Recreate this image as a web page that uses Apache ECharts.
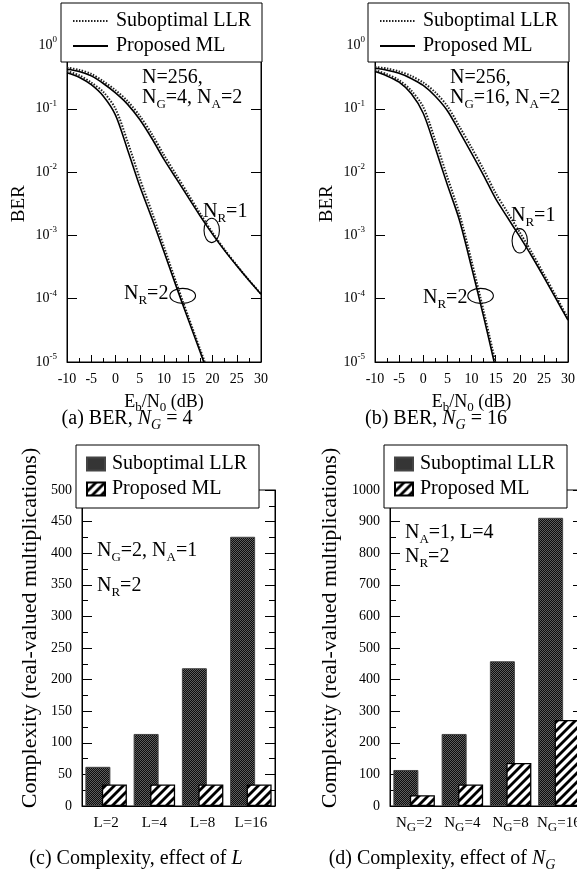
<!DOCTYPE html>
<html><head><meta charset="utf-8">
<script src="https://cdn.jsdelivr.net/npm/echarts/dist/echarts.min.js"></script>
<style>html,body{margin:0;padding:0;background:#fff}#c{width:577px;height:876px}</style>
</head><body><div id="c"></div>
<script>
// ---------- data ----------
// (a) N_G = 4 : [Eb/N0 (dB), BER]
const berA_NR1_sub = [[-10,0.447],[-7.5,0.412],[-5,0.355],[-2.5,0.272],[0,0.197],[2.5,0.132],[5,0.0776],[7.5,0.0398],[10,0.0186],[12.5,0.00912],[15,0.00447],[17.5,0.00219],[20,0.00111],[22.5,0.000596],[25,0.000339],[27.5,0.000197],[30,0.000119]];
const berA_NR1_ml  = [[-10,0.421],[-7.5,0.389],[-5,0.331],[-2.5,0.251],[0,0.178],[2.5,0.1175],[5,0.0676],[7.5,0.0339],[10,0.01585],[12.5,0.00794],[15,0.00398],[17.5,0.002],[20,0.001047],[22.5,0.000575],[25,0.000331],[27.5,0.000195],[30,0.0001175]];
const berA_NR2_sub = [[-10,0.394],[-7.5,0.339],[-5,0.26],[-2.5,0.184],[0,0.1],[2.5,0.0302],[5,0.00794],[7.5,0.00234],[10,0.00066],[12.5,0.000182],[15,0.0000525],[17.5,0.0000155],[18.4,0.00001]];
const berA_NR2_ml  = [[-10,0.372],[-7.5,0.316],[-5,0.24],[-2.5,0.158],[0,0.0794],[2.5,0.0224],[5,0.00603],[7.5,0.00186],[10,0.00055],[12.5,0.000158],[15,0.0000468],[17.5,0.0000141],[18.2,0.00001]];
// (b) N_G = 16
const berB_NR1_sub = [[-10,0.457],[-7.5,0.432],[-5,0.389],[-2.5,0.331],[0,0.26],[2.5,0.182],[5,0.11],[7.5,0.0525],[10,0.0245],[12.5,0.011],[15,0.00468],[17.5,0.00229],[20,0.00112],[22.5,0.000537],[25,0.000245],[27.5,0.00011],[30,0.000049]];
const berB_NR1_ml  = [[-10,0.437],[-7.5,0.407],[-5,0.363],[-2.5,0.302],[0,0.234],[2.5,0.158],[5,0.0933],[7.5,0.0437],[10,0.02],[12.5,0.00891],[15,0.0038],[17.5,0.0019],[20,0.000955],[22.5,0.000468],[25,0.000219],[27.5,0.0001],[30,0.0000457]];
const berB_NR2_sub = [[-10,0.407],[-7.5,0.351],[-5,0.282],[-2.5,0.195],[0,0.107],[2.5,0.0316],[5,0.00832],[7.5,0.00219],[10,0.000398],[12.5,0.0000646],[14.95,0.00001]];
const berB_NR2_ml  = [[-10,0.389],[-7.5,0.331],[-5,0.263],[-2.5,0.174],[0,0.0851],[2.5,0.024],[5,0.00631],[7.5,0.00174],[10,0.000316],[12.5,0.0000525],[14.7,0.00001]];
// (c) effect of L
const catsL = ['L=2','L=4','L=8','L=16'];
const cplxL_sub = [62,114,218,426];
const cplxL_ml  = [34,34,34,34];
// (d) effect of N_G
const catsNG = ['2','4','8','16'];
const cplxNG_sub = [114,228,458,912];
const cplxNG_ml  = [34,68,136,272];
// annotation anchors (data coords)
const ellA = [[19.84,0.0012],[13.86,0.000111]];
const ellB = [[20.0,0.00082],[11.88,0.000111]];

// ---------- styles ----------
const FONT = "'Liberation Serif','Times New Roman',serif";
const BLACK = '#000';
function darkPattern(){
  const c=document.createElement('canvas'); c.width=2; c.height=2;
  const g=c.getContext('2d'); g.fillStyle='#0d0d0d'; g.fillRect(0,0,2,2);
  g.fillStyle='#5e5e5e'; g.fillRect(0,0,1,1); g.fillRect(1,1,1,1); return c;
}
function hatchPattern(){
  const s=9, c=document.createElement('canvas'); c.width=s; c.height=s;
  const g=c.getContext('2d'); g.fillStyle='#fff'; g.fillRect(0,0,s,s);
  g.strokeStyle='#000'; g.lineWidth=2.8;
  [0,s,2*s].forEach(k=>{ g.beginPath(); g.moveTo(-2,k+2); g.lineTo(k+2,-2); g.stroke(); });
  return c;
}
const darkFill = {image: darkPattern(), repeat:'repeat'};
const hatchFill = {image: hatchPattern(), repeat:'repeat'};

const rich = {
  s:{fontSize:13, lineHeight:13, verticalAlign:'bottom', fontFamily:FONT, color:BLACK},
  sup:{fontSize:9, lineHeight:9, verticalAlign:'top', fontFamily:FONT, color:BLACK},
  i:{fontStyle:'italic', fontSize:20, fontFamily:FONT, color:BLACK},
  is:{fontStyle:'italic', fontSize:14, lineHeight:14, verticalAlign:'bottom', fontFamily:FONT, color:BLACK}
};

const grids = [
  {left:67, top:45.5, width:194, height:316.5},
  {left:375, top:45.5, width:193, height:316.5},
  {left:82, top:490, width:193, height:316},
  {left:390, top:490, width:193, height:316}
].map(g=>Object.assign({show:true, borderColor:BLACK, borderWidth:1, backgroundColor:'transparent', containLabel:false, outerBoundsMode:'none'}, g));

function snrAxis(gi){
  return {gridIndex:gi, type:'value', min:-10, max:30, interval:5,
    axisLine:{show:true, onZero:false, lineStyle:{color:BLACK, width:1}},
    axisTick:{show:true, inside:true, length:7, lineStyle:{color:BLACK}},
    minorTick:{show:true, splitNumber:2, length:4, lineStyle:{color:BLACK}},
    splitLine:{show:false}, minorSplitLine:{show:false},
    axisLabel:{fontSize:14, fontFamily:FONT, color:BLACK, margin:10},
    name:'E{s|b}/N{s|0} (dB)', nameLocation:'middle', nameGap:28,
    nameTextStyle:{fontSize:18, lineHeight:24, fontFamily:FONT, color:BLACK, rich:rich}};
}
function berAxis(gi, right){
  return {gridIndex:gi, type:'log', logBase:10, min:1e-5, max:1, position: right?'right':'left',
    axisLine:{show:true, onZero:false, lineStyle:{color:BLACK}},
    axisTick:{show:true, inside:true, length:10, lineStyle:{color:BLACK}},
    splitLine:{show:false}, minorTick:{show:false},
    axisLabel: right ? {show:false} : {fontSize:14, lineHeight:20, fontFamily:FONT, color:BLACK, margin:10, rich:rich,
      formatter: v => '10{sup|' + Math.round(Math.log10(v)) + '}'},
    name: right ? '' : 'BER', nameLocation:'middle', nameGap:38,
    nameTextStyle:{fontSize:19, fontFamily:FONT, color:BLACK}};
}
function cplxAxis(gi, right, max, step){
  return {gridIndex:gi, type:'value', min:0, max:max, interval:step, position: right?'right':'left',
    axisLine:{show:true, onZero:false, lineStyle:{color:BLACK}},
    axisTick:{show:true, inside:true, length:10, lineStyle:{color:BLACK}},
    minorTick:{show:true, splitNumber:2, length:6, lineStyle:{color:BLACK}},
    splitLine:{show:false}, minorSplitLine:{show:false},
    axisLabel: right ? {show:false} : {fontSize:14, fontFamily:FONT, color:BLACK, margin:10, formatter: v => String(v)}};
}
function catAxis(gi, data, fmt){
  return {gridIndex:gi, type:'category', data:data,
    axisLine:{show:true, onZero:false, lineStyle:{color:BLACK}}, axisTick:{show:false},
    axisLabel:{fontSize:15, lineHeight:22, fontFamily:FONT, color:BLACK, margin:6, rich:rich, formatter:fmt, interval:0}};
}
function lineS(name, data, xi, yi, dotted){
  return {name:name, type:'line', xAxisIndex:xi, yAxisIndex:yi, data:data, symbol:'none', showSymbol:false,
    smooth:0.3, animation:false, z: dotted?2:3,
    itemStyle:{color: dotted?'#222':BLACK},
    lineStyle: dotted ? {color:'#222', width:2, type:[1.5,1.5]} : {color:BLACK, width:1.6, type:'solid'}};
}
function barS(name, data, xi, yi, dark){
  return {name:name, type:'bar', xAxisIndex:xi, yAxisIndex:yi, data:data, barWidth:25, barGap:'-34%',
    animation:false, z: dark?2:3,
    itemStyle: dark ? {color:darkFill, borderColor:'#444', borderWidth:1} : {color:hatchFill, borderColor:BLACK, borderWidth:1.3}};
}
const SUB='Suboptimal LLR', ML='Proposed ML', BSUB='bar:Suboptimal LLR', BML='bar:Proposed ML';

function lineLegend(left){
  return {left:left, top:3, orient:'vertical', padding:[7,11,5,11], itemGap:3, itemWidth:35, itemHeight:14,
    backgroundColor:'#fff', borderColor:BLACK, borderWidth:1, borderRadius:0, data:[SUB, ML], selectedMode:false,
    itemStyle:{opacity:0},
    textStyle:{fontSize:20, lineHeight:22, fontFamily:FONT, color:BLACK, padding:[0,0,0,3]}};
}
function barLegend(left){
  return {left:left, top:445, orient:'vertical', padding:[8,12,8,10], itemGap:3, itemWidth:18, itemHeight:13, icon:'rect',
    backgroundColor:'#fff', borderColor:BLACK, borderWidth:1, borderRadius:0, data:[BSUB, BML], selectedMode:false,
    formatter: n => n.replace(/^bar:/,''),
    textStyle:{fontSize:20, lineHeight:22, fontFamily:FONT, color:BLACK, padding:[0,0,0,2]}};
}

const option = {
  animation:false,
  backgroundColor:'#fff',
  textStyle:{fontFamily:FONT, color:BLACK},
  grid: grids,
  xAxis:[snrAxis(0), snrAxis(1),
    catAxis(2, catsL, v=>v),
    catAxis(3, catsNG, v=>'N{s|G}='+v)],
  yAxis:[berAxis(0,false), berAxis(0,true), berAxis(1,false), berAxis(1,true),
    cplxAxis(2,false,500,50), cplxAxis(2,true,500,50), cplxAxis(3,false,1000,100), cplxAxis(3,true,1000,100)],
  legend:[lineLegend(61), lineLegend(368), barLegend(76), barLegend(384)],
  series:[
    lineS(SUB, berA_NR1_sub, 0, 0, true), lineS(SUB, berA_NR2_sub, 0, 0, true),
    lineS(ML, berA_NR1_ml, 0, 0, false), lineS(ML, berA_NR2_ml, 0, 0, false),
    lineS(SUB, berB_NR1_sub, 1, 2, true), lineS(SUB, berB_NR2_sub, 1, 2, true),
    lineS(ML, berB_NR1_ml, 1, 2, false), lineS(ML, berB_NR2_ml, 1, 2, false),
    barS(BSUB, cplxL_sub, 2, 4, true), barS(BML, cplxL_ml, 2, 4, false),
    barS(BSUB, cplxNG_sub, 3, 6, true), barS(BML, cplxNG_ml, 3, 6, false)
  ]
};
const chart = echarts.init(document.getElementById('c'));
chart.setOption(option);

// ---------- annotations ----------
function txt(x, y, text, extra){
  return Object.assign({type:'text', x:x, y:y, z:50,
    style:Object.assign({text:text, rich:rich, fontSize:20, lineHeight:26, fontFamily:FONT, fill:BLACK,
      align:'left', verticalAlign:'middle', textAlign:'left', textVerticalAlign:'middle'}, extra||{})});
}
function ell(xi, yi, pt, rx, ry){
  const p = chart.convertToPixel({xAxisIndex:xi, yAxisIndex:yi}, pt);
  return {type:'ellipse', z:50, shape:{cx:p[0], cy:p[1], rx:rx, ry:ry}, style:{fill:'none', stroke:BLACK, lineWidth:1.1}};
}
const yLabel = 'Complexity (real-valued multiplications)';
function rot(x, y){
  return {type:'text', x:x, y:y, rotation:Math.PI/2, z:50, style:{text:yLabel, fontSize:22, fontFamily:FONT, fill:BLACK, align:'center', verticalAlign:'middle', textAlign:'center', textVerticalAlign:'middle'}};
}
const g = [
  txt(142, 78, 'N=256,'), txt(142, 98, 'N{s|G}=4, N{s|A}=2'),
  txt(450, 78, 'N=256,'), txt(450, 98, 'N{s|G}=16, N{s|A}=2'),
  txt(203, 212, 'N{s|R}=1'), txt(124, 294, 'N{s|R}=2'),
  txt(511, 216, 'N{s|R}=1'), txt(423, 298, 'N{s|R}=2'),
  ell(0,0,ellA[0],7.7,12.2), ell(0,0,ellA[1],12.8,7.5),
  ell(1,2,ellB[0],7.7,12.2), ell(1,2,ellB[1],12.8,7.5),
  txt(97, 551, 'N{s|G}=2, N{s|A}=1'), txt(97, 586, 'N{s|R}=2'),
  txt(405, 533, 'N{s|A}=1, L=4'), txt(405, 557, 'N{s|R}=2'),
  rot(30, 628), rot(330, 628),
  txt(127, 419, '(a) BER, {i|N}{is|G} = 4', {align:'center', textAlign:'center'}),
  txt(436, 419, '(b) BER, {i|N}{is|G} = 16', {align:'center', textAlign:'center'}),
  txt(136, 859, '(c) Complexity, effect of {i|L}', {align:'center', textAlign:'center'}),
  txt(442, 859, '(d) Complexity, effect of {i|N}{is|G}', {align:'center', textAlign:'center'})
];
chart.setOption({graphic: g});
</script></body></html>
